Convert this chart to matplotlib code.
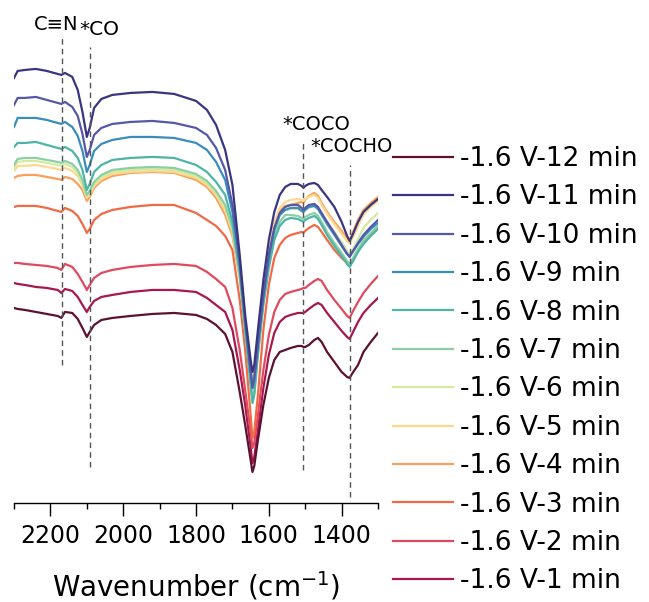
import matplotlib.pyplot as plt

plt.rcParams['font.family'] = ['DejaVu Sans']

# wavenumber grid (cm-1), shared by all spectra
wavenumber = [2300, 2290, 2270, 2240, 2210, 2180, 2170, 2160, 2140, 2125, 2112, 2100, 2092, 2080,
              2060, 2030, 1980, 1920, 1860, 1800, 1770, 1745, 1720,
              1700, 1680, 1665, 1650, 1645, 1640, 1630, 1615, 1600, 1585, 1570, 1555,
              1540, 1520, 1510, 1505, 1500, 1490, 1475, 1465, 1455, 1440, 1420, 1400,
              1385, 1378, 1370, 1355, 1340, 1320, 1300]

# stacked intensities (a.u., offset for clarity)
min_12 = [192, 191, 190, 188, 186, 184, 182, 188, 187, 181, 172, 163, 168, 175, 180, 182, 184, 186, 187, 185, 181, 175, 166,
          148, 108, 75, 40, 28, 34, 60, 95, 122, 140, 148, 150,
          152, 154, 154, 153, 153, 155, 160, 162, 158, 148, 138, 128, 123, 122, 127, 135, 148, 158, 167]
min_11 = [422, 429, 430, 431, 429, 426, 425, 427, 423, 410, 388, 363, 372, 392, 401, 405, 407, 408, 406, 399, 390, 375, 350,
          315, 245, 185, 140, 128, 135, 170, 220, 260, 288, 305, 313,
          316, 316, 314, 312, 314, 316, 317, 315, 310, 303, 293, 278, 264, 259, 265, 278, 288, 295, 301]
min_10 = [395, 402, 402, 403, 400, 397, 396, 398, 393, 384, 366, 343, 350, 365, 372, 376, 378, 379, 377, 372, 365, 352, 330,
          295, 238, 180, 128, 112, 120, 155, 205, 245, 272, 287, 293,
          295, 295, 292, 290, 292, 295, 296, 293, 287, 278, 267, 255, 246, 243, 248, 257, 265, 273, 280]
min_9 = [373, 382, 382, 382, 380, 377, 376, 378, 373, 364, 349, 328, 335, 349, 356, 360, 363, 363, 362, 357, 350, 338, 320,
         288, 235, 178, 130, 115, 123, 158, 205, 242, 270, 285, 290,
         292, 292, 289, 288, 290, 293, 294, 291, 285, 276, 265, 254, 246, 244, 248, 256, 263, 271, 277]
min_8 = [353, 357, 357, 358, 355, 352, 351, 353, 349, 342, 330, 310, 316, 328, 335, 340, 342, 343, 342, 335, 328, 318, 305,
         278, 228, 170, 115, 97, 105, 145, 195, 232, 260, 274, 280,
         282, 281, 279, 278, 280, 282, 284, 281, 275, 265, 254, 244, 236, 233, 238, 248, 256, 264, 271]
min_7 = [335, 341, 342, 342, 340, 338, 337, 339, 336, 330, 320, 305, 309, 318, 325, 330, 332, 333, 332, 326, 319, 309, 295,
         272, 225, 168, 117, 100, 108, 148, 198, 235, 264, 278, 285,
         285, 284, 282, 281, 283, 285, 287, 284, 278, 268, 257, 247, 239, 236, 241, 251, 259, 267, 274]
min_6 = [332, 338, 339, 339, 337, 335, 334, 336, 333, 327, 317, 303, 307, 316, 323, 328, 330, 331, 330, 324, 317, 307, 293,
         270, 225, 170, 120, 105, 113, 152, 202, 240, 270, 285, 290,
         291, 291, 289, 288, 290, 292, 294, 291, 286, 278, 268, 258, 249, 245, 250, 261, 272, 280, 287]
min_5 = [329, 334, 334, 335, 333, 331, 330, 332, 329, 324, 315, 302, 305, 314, 321, 326, 328, 329, 328, 322, 315, 305, 290,
         268, 225, 175, 132, 122, 128, 162, 210, 248, 278, 292, 298,
         300, 301, 300, 299, 301, 303, 305, 302, 295, 286, 276, 266, 259, 257, 262, 274, 285, 293, 299]
min_4 = [322, 324, 325, 325, 323, 321, 320, 323, 321, 316, 310, 299, 303, 312, 319, 324, 327, 328, 327, 320, 313, 302, 285,
         264, 222, 175, 132, 120, 127, 160, 208, 245, 275, 289, 294,
         295, 297, 298, 297, 300, 304, 307, 304, 297, 288, 278, 269, 262, 260, 267, 280, 290, 297, 303]
min_3 = [293, 294, 294, 294, 292, 289, 288, 292, 289, 284, 276, 267, 271, 280, 286, 290, 293, 295, 295, 287, 280, 274, 264,
         250, 200, 150, 85, 62, 68, 105, 170, 215, 242, 255, 262,
         265, 267, 268, 267, 269, 272, 275, 273, 268, 260, 250, 242, 237, 235, 240, 250, 258, 266, 273]
min_2 = [237, 237, 236, 235, 234, 232, 230, 236, 233, 226, 218, 210, 215, 222, 227, 230, 233, 235, 236, 234, 228, 221, 213,
         192, 150, 110, 68, 52, 57, 85, 130, 165, 188, 200, 206,
         208, 210, 211, 212, 212, 215, 219, 221, 219, 210, 200, 191, 184, 182, 188, 198, 207, 216, 224]
min_1 = [217, 216, 215, 213, 212, 210, 207, 211, 209, 203, 195, 188, 193, 199, 203, 205, 208, 210, 210, 208, 202, 195, 188,
         170, 130, 95, 53, 37, 43, 70, 112, 145, 167, 178, 183,
         185, 187, 187, 187, 188, 191, 195, 197, 195, 187, 178, 169, 163, 161, 167, 178, 187, 195, 202]

labels = ['-1.6 V-12 min', '-1.6 V-11 min', '-1.6 V-10 min', '-1.6 V-9 min', '-1.6 V-8 min', '-1.6 V-7 min',
          '-1.6 V-6 min', '-1.6 V-5 min', '-1.6 V-4 min', '-1.6 V-3 min', '-1.6 V-2 min', '-1.6 V-1 min']
spectra = [min_12, min_11, min_10, min_9, min_8, min_7, min_6, min_5, min_4, min_3, min_2, min_1]
colors = ['#5c1130', '#3a3580', '#5558a8', '#3a8dbb', '#4db5a5', '#8ccfa6',
          '#d3ea9f', '#fbd98f', '#f7a15c', '#f06a45', '#df4a5e', '#a8184f']

# band assignments: (label, wavenumber, top, bottom)
bands = [('C≡N', 2167, 465, 135), ('*CO', 2092, 453, 33),
         ('*COCO', 1507, 360, 30), ('*COCHO', 1378, 335, 3)]

fig = plt.figure(figsize=(6.49, 6.02), dpi=100)
ax = fig.add_axes([0.0216, 0.1645, 0.5609, 0.819])

handles = {}
for i in range(len(spectra) - 1, -1, -1):
    line, = ax.plot(wavenumber, spectra[i], color=colors[i], lw=1.6, label=labels[i])
    handles[i] = line

for name, w, top, bottom in bands:
    ax.plot([w, w], [bottom, top], color='#555555', lw=1.0, dashes=(4, 3))

ax.text(2183, 470, 'C≡N', fontsize=14, ha='center', va='baseline')
ax.text(2121, 465, '*CO', fontsize=14.5, ha='left', va='baseline')
ax.text(1564, 370, '*COCO', fontsize=14, ha='left', va='baseline')
ax.text(1487, 348, '*COCHO', fontsize=14, ha='left', va='baseline')

ax.set_xlim(2300, 1300)
ax.set_ylim(-3, 490)
ax.set_xticks([2200, 2000, 1800, 1600, 1400])
ax.set_xticks(range(2300, 1299, -100), minor=True)
ax.tick_params(axis='x', which='major', length=9, width=1, labelsize=17, pad=6, direction='out')
ax.tick_params(axis='x', which='minor', length=4, width=1, direction='out')
ax.set_yticks([])
for side in ['left', 'top', 'right']:
    ax.spines[side].set_visible(False)
ax.spines['bottom'].set_linewidth(1)
ax.set_xlabel('Wavenumber (cm$^{-1}$)', fontsize=20, labelpad=16)

fig.legend([handles[i] for i in range(len(spectra))], labels,
           loc='upper left', bbox_to_anchor=(393 / 649, 1 - 146 / 602),
           frameon=False, fontsize=19, handlelength=2.27, handletextpad=0.27,
           labelspacing=0.47, borderpad=0, borderaxespad=0)

fig.savefig('out.png', dpi=100)
